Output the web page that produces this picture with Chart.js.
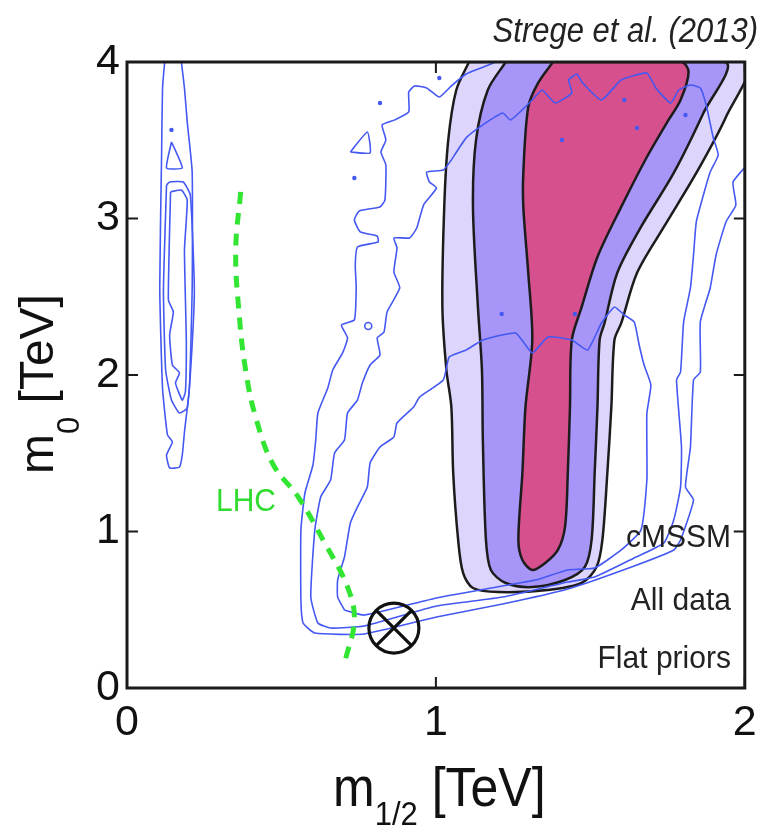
<!DOCTYPE html>
<html lang="en">
<head>
<meta charset="UTF-8">
<title>cMSSM m0 - m1/2</title>
<script src="https://cdn.jsdelivr.net/npm/chart.js"></script>
<style>
  html, body { margin: 0; padding: 0; background: #fff; }
  #plot { display: block; }
</style>
</head>
<body>
<canvas id="plot" width="773" height="828"></canvas>
<script>
// axes (TeV)
const xRange = [0, 2];
const yRange = [0, 4];

// filled credible regions, [m1/2, m0] in TeV
const outerRegion = [[1.107,4.0],[1.066,3.821],[1.040,3.502],[1.027,3.074],[1.021,2.435],[1.034,2.032],[1.050,1.796],[1.056,1.374],[1.072,0.946],[1.088,0.735],[1.120,0.639],[1.203,0.613],[1.363,0.626],[1.472,0.671],[1.520,0.773],[1.539,0.946],[1.555,1.374],[1.568,1.796],[1.578,2.224],[1.600,2.332],[1.651,2.652],[1.738,2.946],[1.843,3.291],[1.939,3.649],[2.003,4.0]];
const middleRegion = [[1.226,4.0],[1.168,3.821],[1.130,3.502],[1.120,3.074],[1.136,2.435],[1.149,2.032],[1.152,1.585],[1.162,0.946],[1.178,0.754],[1.226,0.671],[1.312,0.645],[1.418,0.690],[1.482,0.773],[1.504,0.946],[1.514,1.374],[1.523,1.796],[1.530,2.224],[1.546,2.332],[1.587,2.652],[1.664,2.946],[1.770,3.291],[1.866,3.674],[1.936,4.0]];
const innerRegion = [[1.379,4.0],[1.331,3.866],[1.299,3.713],[1.283,3.291],[1.283,3.074],[1.299,2.652],[1.312,2.224],[1.290,1.796],[1.280,1.374],[1.267,0.946],[1.280,0.818],[1.312,0.754],[1.354,0.799],[1.395,0.882],[1.418,1.029],[1.427,1.374],[1.434,1.796],[1.440,2.224],[1.472,2.435],[1.523,2.754],[1.600,3.074],[1.683,3.393],[1.747,3.610],[1.792,3.757],[1.818,3.936],[1.795,4.0]];

// blue contours (other analysis)
const blueOuter = [[1.194,4.0],[1.146,3.962],[1.098,3.923],[1.050,3.847],[1.011,3.776],[0.970,3.834],[0.931,3.847],[0.912,3.808],[0.912,3.681],[0.867,3.630],[0.826,3.598],[0.838,3.502],[0.822,3.425],[0.838,3.342],[0.835,3.118],[0.819,3.074],[0.752,3.048],[0.736,2.991],[0.755,2.914],[0.810,2.888],[0.813,2.850],[0.746,2.818],[0.739,2.703],[0.742,2.556],[0.736,2.352],[0.694,2.320],[0.714,2.237],[0.698,2.141],[0.666,2.032],[0.650,1.917],[0.618,1.757],[0.611,1.585],[0.602,1.425],[0.576,1.246],[0.563,1.010],[0.563,0.562],[0.570,0.415],[0.608,0.351],[0.768,0.345],[1.002,0.454],[1.216,0.537],[1.427,0.633],[1.642,0.780],[1.770,0.882],[1.792,0.946],[1.834,1.201],[1.808,1.284],[1.824,1.540],[1.834,1.968],[1.856,2.019],[1.856,2.339],[1.888,2.556],[1.907,2.767],[1.939,2.978],[1.971,3.086],[1.962,3.233],[2.016,3.361]];
const blueMiddle = [[1.050,3.374],[1.098,3.515],[1.152,3.598],[1.216,3.674],[1.242,3.630],[1.312,3.757],[1.344,3.821],[1.386,3.738],[1.440,3.802],[1.430,3.885],[1.456,3.923],[1.475,3.866],[1.536,3.757],[1.600,3.885],[1.683,3.930],[1.712,3.834],[1.760,3.738],[1.786,3.821],[1.824,3.853],[1.856,3.834],[1.875,3.725],[1.898,3.515],[1.914,3.406],[1.888,3.297],[1.866,3.150],[1.843,2.978],[1.834,2.767],[1.824,2.556],[1.802,2.339],[1.792,2.019],[1.779,1.968],[1.795,1.540],[1.792,1.284],[1.770,1.074],[1.738,0.927],[1.642,0.831],[1.514,0.709],[1.427,0.677],[1.216,0.581],[1.002,0.524],[0.768,0.396],[0.659,0.383],[0.618,0.415],[0.595,0.581],[0.608,1.010],[0.627,1.221],[0.659,1.329],[0.672,1.502],[0.704,1.585],[0.714,1.757],[0.746,1.840],[0.762,1.949],[0.787,2.064],[0.819,2.128],[0.810,2.237],[0.832,2.275],[0.842,2.403],[0.883,2.556],[0.864,2.658],[0.874,2.812],[0.864,2.876],[0.915,2.876],[0.938,2.939],[0.960,3.086],[1.002,3.195],[0.979,3.233],[0.970,3.297],[1.024,3.310]];
const blueInner = [[0.704,0.498],[0.682,0.581],[0.682,0.690],[0.704,0.837],[0.723,1.054],[0.746,1.157],[0.778,1.284],[0.787,1.438],[0.819,1.540],[0.864,1.604],[0.874,1.693],[0.928,1.796],[0.947,1.859],[1.024,1.968],[1.043,2.115],[1.098,2.160],[1.152,2.224],[1.258,2.268],[1.312,2.141],[1.363,2.243],[1.440,2.224],[1.491,2.160],[1.536,2.332],[1.578,2.435],[1.610,2.383],[1.642,2.339],[1.658,2.192],[1.674,2.064],[1.696,1.936],[1.683,1.757],[1.683,1.540],[1.683,1.329],[1.664,1.010],[1.600,0.882],[1.514,0.767],[1.427,0.754],[1.322,0.690],[1.216,0.652],[1.002,0.575],[0.768,0.466]];
const smallTriangle = [[0.723,3.425],[0.778,3.553],[0.787,3.419]];

// narrow island at small m1/2
const islandOuter = [[0.122,4.0],[0.115,3.834],[0.112,3.406],[0.106,2.556],[0.115,1.917],[0.131,1.617],[0.147,1.572],[0.128,1.489],[0.138,1.406],[0.170,1.412],[0.179,1.489],[0.186,1.636],[0.202,1.917],[0.211,2.556],[0.211,3.297],[0.195,3.617],[0.186,3.834],[0.176,4.0]];
const islandMiddle = [[0.128,3.214],[0.118,2.543],[0.125,2.032],[0.144,1.840],[0.170,1.757],[0.195,1.789],[0.208,2.096],[0.218,2.543],[0.205,3.150],[0.182,3.233],[0.138,3.233]];
const islandInner = [[0.141,3.170],[0.134,2.479],[0.150,2.403],[0.138,2.256],[0.147,2.064],[0.170,2.013],[0.157,1.949],[0.179,1.840],[0.189,1.891],[0.192,2.224],[0.186,2.799],[0.195,3.118],[0.176,3.182]];
const islandTriangle = [[0.144,3.489],[0.128,3.323],[0.179,3.323]];

const blueDots = [[0.819,3.738],[0.736,3.259],[1.011,3.898],[1.610,3.757],[1.808,3.661],[1.651,3.578],[1.408,3.502],[1.213,2.390],[1.450,2.390],[0.144,3.566]];
const blueRings = [[0.781,2.313]];

// LHC exclusion limit
const lhcLimit = [[0.368,3.170],[0.352,2.799],[0.362,2.415],[0.384,2.032],[0.419,1.713],[0.474,1.425],[0.554,1.221],[0.640,0.927],[0.714,0.645],[0.736,0.435],[0.707,0.179]];

// best fit point
const bestFit = [[0.864,0.383]];

const infoLines = ['cMSSM', 'All data', 'Flat priors'];
const infoPos = [[1.955,0.901],[1.955,0.498],[1.955,0.128]];
const lhcLabelPos = [0.288, 1.131];

const FONT = '"Liberation Sans", Arial, Helvetica, sans-serif';
const BLUE = '#4458f2';

function pts(arr) { return arr.map(p => ({ x: p[0], y: p[1] })); }
function closed(arr) { return pts(arr.concat([arr[0]])); }

function region(data, color, order) {
    return {
        data: closed(data), showLine: true, fill: 'shape',
        backgroundColor: color, borderColor: '#1c1c1c', borderWidth: 2.5,
        pointRadius: 0, tension: 0.3, order: order
    };
}
function blueLine(data, isClosed) {
    return {
        data: isClosed ? closed(data) : pts(data), showLine: true, fill: false,
        borderColor: BLUE, borderWidth: 1.6, pointRadius: 0, tension: 0.15, order: 5
    };
}

// stretch text vertically around its baseline
function stretchText(ctx, text, x, y, sy) {
    ctx.save();
    ctx.translate(x, y);
    ctx.scale(1, sy);
    ctx.fillText(text, 0, 0);
    ctx.restore();
}

const decorPlugin = {
    id: 'decor',
    afterDraw(chart) {
        const ctx = chart.ctx;
        const a = chart.chartArea;
        const sx = chart.scales.x, sy = chart.scales.y;

        // frame
        ctx.save();
        ctx.strokeStyle = '#1a1a1a';
        ctx.lineWidth = 3;
        ctx.strokeRect(a.left, a.top, a.right - a.left, a.bottom - a.top);

        // inward ticks on all four sides
        ctx.lineWidth = 2;
        ctx.beginPath();
        sx.ticks.forEach(t => {
            const px = sx.getPixelForValue(t.value);
            ctx.moveTo(px, a.bottom); ctx.lineTo(px, a.bottom - 11);
            ctx.moveTo(px, a.top); ctx.lineTo(px, a.top + 11);
        });
        sy.ticks.forEach(t => {
            const py = sy.getPixelForValue(t.value);
            ctx.moveTo(a.left, py); ctx.lineTo(a.left + 11, py);
            ctx.moveTo(a.right, py); ctx.lineTo(a.right - 11, py);
        });
        ctx.stroke();

        // reference
        ctx.fillStyle = '#222';
        ctx.font = 'italic 31px ' + FONT;
        ctx.textAlign = 'right';
        ctx.textBaseline = 'alphabetic';
        stretchText(ctx, 'Strege et al. (2013)', 758, 42, 1.15);

        // labels inside the plot
        ctx.font = '30px ' + FONT;
        infoLines.forEach((s, i) => {
            stretchText(ctx, s, sx.getPixelForValue(infoPos[i][0]), sy.getPixelForValue(infoPos[i][1]), 1.05);
        });
        ctx.fillStyle = '#2fdc2f';
        ctx.textAlign = 'left';
        stretchText(ctx, 'LHC', sx.getPixelForValue(lhcLabelPos[0]), sy.getPixelForValue(lhcLabelPos[1]), 1.05);

        // x title: m_{1/2} [TeV]
        ctx.fillStyle = '#111';
        let xx = 333;
        ctx.font = '50px ' + FONT;
        stretchText(ctx, 'm', xx, 806, 1.1);
        xx += ctx.measureText('m').width;
        ctx.font = '31px ' + FONT;
        stretchText(ctx, '1/2', xx, 825, 1.1);
        xx += ctx.measureText('1/2').width;
        ctx.font = '50px ' + FONT;
        stretchText(ctx, ' [TeV]', xx, 806, 1.1);

        // y title: m_0 [TeV], rotated
        ctx.translate(53, 474);
        ctx.rotate(-Math.PI / 2);
        let yy = 0;
        ctx.font = '48px ' + FONT;
        ctx.fillText('m', yy, 0);
        yy += ctx.measureText('m').width;
        ctx.font = '31px ' + FONT;
        ctx.fillText('0', yy, 26);
        yy += ctx.measureText('0').width;
        ctx.font = '48px ' + FONT;
        ctx.fillText(' [TeV]', yy, 0);
        ctx.restore();
    }
};

new Chart(document.getElementById('plot'), {
    type: 'scatter',
    data: {
        datasets: [
            region(outerRegion, '#ddd5fc', 12),
            region(middleRegion, '#a795f8', 11),
            region(innerRegion, '#d6508d', 10),
            blueLine(blueOuter, false),
            blueLine(blueMiddle, true),
            blueLine(blueInner, true),
            blueLine(smallTriangle, true),
            blueLine(islandOuter, false),
            blueLine(islandMiddle, true),
            blueLine(islandInner, true),
            blueLine(islandTriangle, true),
            { data: pts(blueDots), pointRadius: 2.2, pointBackgroundColor: BLUE, pointBorderWidth: 0, order: 4 },
            { data: pts(blueRings), pointRadius: 3.5, pointBackgroundColor: 'rgba(0,0,0,0)', pointBorderColor: BLUE, pointBorderWidth: 1.6, order: 4 },
            {
                data: pts(lhcLimit), showLine: true, fill: false, borderColor: '#33e533',
                borderWidth: 5, borderDash: [12, 9], pointRadius: 0, tension: 0.4, order: 3
            },
            { data: pts(bestFit), pointStyle: 'circle', pointRadius: 25, pointBackgroundColor: 'rgba(0,0,0,0)', pointBorderColor: '#111', pointBorderWidth: 3.2, order: 1 },
            { data: pts(bestFit), pointStyle: 'crossRot', pointRadius: 25, pointBorderColor: '#111', pointBorderWidth: 3.2, order: 1 }
        ]
    },
    options: {
        responsive: false,
        animation: false,
        events: [],
        layout: { padding: { top: 62, right: 21, left: 0, bottom: 0 } },
        plugins: { legend: { display: false }, tooltip: { enabled: false } },
        scales: {
            x: {
                type: 'linear', min: xRange[0], max: xRange[1],
                afterFit: s => { s.height = 140; s.paddingLeft = 0; s.paddingRight = 0; },
                grid: { display: false, drawTicks: false },
                border: { display: false },
                ticks: { stepSize: 1, padding: 9, maxRotation: 0, color: '#111', font: { size: 43, family: FONT } }
            },
            y: {
                type: 'linear', min: yRange[0], max: yRange[1],
                afterFit: s => { s.width = 127; s.paddingTop = 0; s.paddingBottom = 0; },
                grid: { display: false, drawTicks: false },
                border: { display: false },
                ticks: { stepSize: 1, padding: 7, color: '#111', font: { size: 43, family: FONT } }
            }
        }
    },
    plugins: [decorPlugin]
});
</script>
</body>
</html>
